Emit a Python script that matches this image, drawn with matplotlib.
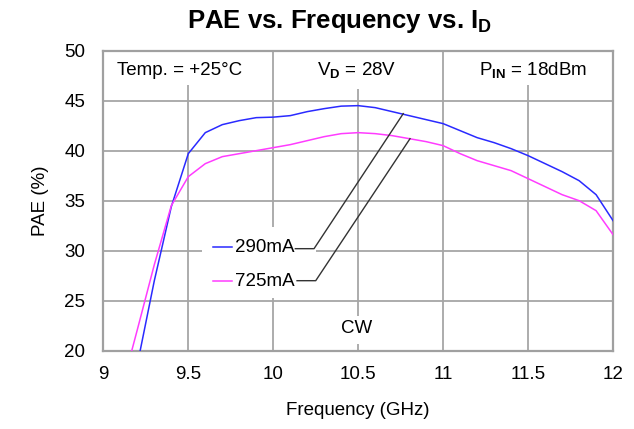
import matplotlib
matplotlib.use("Agg")
import matplotlib.pyplot as plt
from matplotlib.patches import Rectangle

plt.rcParams['font.family'] = ['Liberation Sans', 'DejaVu Sans']
plt.rcParams['mathtext.fontset'] = 'custom'
plt.rcParams['mathtext.rm'] = 'Liberation Sans'
plt.rcParams['mathtext.bf'] = 'Liberation Sans:bold'

# Data
freq_290 = [9.2, 9.3, 9.4, 9.5, 9.6, 9.7, 9.8, 9.9, 10.0, 10.1, 10.2, 10.3, 10.4, 10.5,
            10.6, 10.7, 10.8, 10.9, 11.0, 11.1, 11.2, 11.3, 11.4, 11.5, 11.6, 11.7,
            11.8, 11.9, 12.0]
pae_290 = [18.6, 27.0, 34.4, 39.7, 41.8, 42.6, 43.0, 43.3, 43.35, 43.5, 43.9, 44.2, 44.45, 44.5,
           44.3, 43.9, 43.5, 43.1, 42.7, 42.0, 41.3, 40.8, 40.2, 39.5, 38.7, 37.9,
           37.0, 35.6, 33.0]
freq_725 = [9.1, 9.2, 9.3, 9.4, 9.5, 9.6, 9.7, 9.8, 9.9, 10.0, 10.1, 10.2, 10.3, 10.4, 10.5,
            10.6, 10.7, 10.8, 10.9, 11.0, 11.1, 11.2, 11.3, 11.4, 11.5, 11.6, 11.7,
            11.8, 11.9, 12.0]
pae_725 = [15.7, 22.1, 28.6, 34.5, 37.4, 38.7, 39.4, 39.7, 40.0, 40.3, 40.6, 41.0, 41.4, 41.7, 41.8,
           41.7, 41.5, 41.2, 40.9, 40.5, 39.7, 39.0, 38.5, 38.0, 37.2, 36.4, 35.6,
           35.0, 34.0, 31.6]
x_ticks = [9, 9.5, 10, 10.5, 11, 11.5, 12]
x_tick_labels = ['9', '9.5', '10', '10.5', '11', '11.5', '12']
y_ticks = [20, 25, 30, 35, 40, 45, 50]

BLUE = '#2a2aff'
MAGENTA = '#ff3cff'
GRID = '#a6a6a6'

fig = plt.figure(figsize=(6.34, 4.29), dpi=100)
ax = fig.add_axes([0.163, 0.1825, 0.804, 0.6995])

ax.set_xlim(9, 12)
ax.set_ylim(20, 50)
ax.set_xticks(x_ticks)
ax.set_xticklabels(x_tick_labels)
ax.set_yticks(y_ticks)
ax.tick_params(length=0, labelsize=13.5, colors='#000000')
ax.tick_params(axis='y', pad=13)
ax.tick_params(axis='x', pad=11)
ax.set_axisbelow(True)
ax.grid(True, color=GRID, linewidth=1.3)
for s in ax.spines.values():
    s.set_color('#a0a0a0')
    s.set_linewidth(1.6)

ax.plot(freq_290, pae_290, color=BLUE, linewidth=1.1, zorder=3, clip_on=True)
ax.plot(freq_725, pae_725, color=MAGENTA, linewidth=1.1, zorder=3, clip_on=True)

# white boxes behind text (interrupt grid)
for (x0, x1, y0) in [(9.08, 9.9, 46.6), (10.2, 10.8, 46.2), (11.1, 11.95, 46.6)]:
    ax.add_patch(Rectangle((x0, y0), x1 - x0, 49.85 - y0, facecolor='white',
                           edgecolor='none', zorder=1))
ax.add_patch(Rectangle((9.58, 25.3), 0.67, 7.1, facecolor='white', edgecolor='none', zorder=1))
ax.add_patch(Rectangle((10.4, 20.7), 0.2, 2.8, facecolor='white', edgecolor='none', zorder=1))

FS = 13.5
ax.text(9.45, 48.0, 'Temp. = +25°C', fontsize=FS, ha='center', va='center', zorder=4)
ax.text(10.49, 48.0, r'V$_\mathbf{D}$ = 28V', fontsize=FS, ha='center', va='center', zorder=4)
ax.text(11.53, 48.0, r'P$_\mathbf{IN}$ = 18dBm', fontsize=FS, ha='center', va='center', zorder=4)
ax.text(10.49, 22.2, 'CW', fontsize=FS, ha='center', va='center', zorder=4)

# inline legend
ax.plot([9.647, 9.76], [30.37, 30.37], color=BLUE, linewidth=1.1, zorder=3)
ax.plot([9.647, 9.76], [27.0, 27.0], color=MAGENTA, linewidth=1.1, zorder=3)
ax.text(9.775, 30.3, '290mA', fontsize=FS, ha='left', va='center', zorder=4)
ax.text(9.775, 26.95, '725mA', fontsize=FS, ha='left', va='center', zorder=4)
ax.plot([10.13, 10.24, 10.765], [30.2, 30.2, 43.7], color='#333333', linewidth=1.0, zorder=3)
ax.plot([10.14, 10.25, 10.805], [27.0, 27.0, 41.2], color='#333333', linewidth=1.0, zorder=3)

ax.set_xlabel('Frequency (GHz)', fontsize=13.5, labelpad=14)
ax.set_ylabel('PAE (%)', fontsize=13.5, labelpad=11)
fig.text(0.535, 0.949, r'PAE vs. Frequency vs. I$_\mathregular{D}$', fontsize=18.5,
         fontweight='bold', ha='center', va='center')

fig.savefig('out.png', dpi=100)
